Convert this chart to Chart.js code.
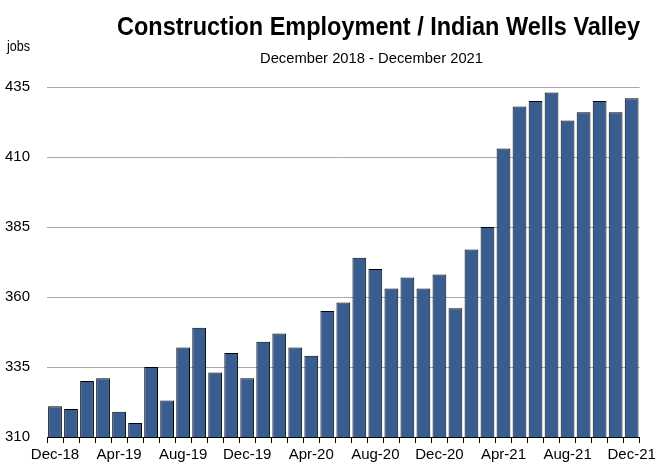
<!DOCTYPE html>
<html>
<head>
<meta charset="utf-8">
<script src="https://cdn.jsdelivr.net/npm/chart.js@4.4.0/dist/chart.umd.min.js"></script>
<style>
  html, body { margin: 0; padding: 0; background: #fff; }
  #wrap { width: 659px; height: 471px; position: relative; }
</style>
</head>
<body>
<div id="wrap"><canvas id="jobsChart"></canvas></div>
<script>
const months = [
  'Dec-18', 'Jan-19', 'Feb-19', 'Mar-19', 'Apr-19', 'May-19', 'Jun-19', 'Jul-19', 'Aug-19',
  'Sep-19', 'Oct-19', 'Nov-19', 'Dec-19', 'Jan-20', 'Feb-20', 'Mar-20', 'Apr-20', 'May-20',
  'Jun-20', 'Jul-20', 'Aug-20', 'Sep-20', 'Oct-20', 'Nov-20', 'Dec-20', 'Jan-21', 'Feb-21',
  'Mar-21', 'Apr-21', 'May-21', 'Jun-21', 'Jul-21', 'Aug-21', 'Sep-21', 'Oct-21', 'Nov-21', 'Dec-21'
];
const jobs = [
  321, 320, 330, 331, 319, 315, 335, 323, 342, 349, 333, 340, 331,
  344, 347, 342, 339, 355, 358, 374, 370, 363, 367, 363, 368, 356,
  377, 385, 413, 428, 430, 433, 423, 426, 430, 426, 431
];
const yTicks = [310, 335, 360, 385, 410, 435];

const font = '"Liberation Sans", Arial, sans-serif';

// draw text squeezed to a given width (the original uses a narrow face)
function squeezed(ctx, text, cx, y, width) {
  const w = ctx.measureText(text).width;
  const k = Math.min(1, width / w);
  ctx.save();
  ctx.translate(cx, y);
  ctx.scale(k, 1);
  ctx.fillText(text, 0, 0);
  ctx.restore();
}

const headerText = {
  id: 'headerText',
  afterDraw(chart) {
    const ctx = chart.ctx;
    ctx.save();
    ctx.fillStyle = '#000';
    ctx.textBaseline = 'alphabetic';
    ctx.textAlign = 'center';
    ctx.font = 'bold 25px ' + font;
    squeezed(ctx, 'Construction Employment / Indian Wells Valley', 378.5, 35, 523);
    ctx.font = '15px ' + font;
    squeezed(ctx, 'December 2018 - December 2021', 371.5, 63, 223);
    ctx.textAlign = 'left';
    ctx.font = '15px ' + font;
    squeezed(ctx, 'jobs', 7, 51, 23);
    ctx.restore();
  }
};

new Chart(document.getElementById('jobsChart'), {
  type: 'bar',
  data: {
    labels: months,
    datasets: [{
      data: jobs,
      backgroundColor: '#375d91',
      borderColor: '#000',
      borderWidth: 1,
      barPercentage: 0.86,
      categoryPercentage: 1
    }]
  },
  options: {
    responsive: true,
    maintainAspectRatio: false,
    animation: false,
    layout: { padding: { top: 87, right: 14, bottom: 0, left: 0 } },
    plugins: {
      legend: { display: false },
      tooltip: { enabled: false }
    },
    scales: {
      x: {
        offset: true,
        afterFit(scale) { scale.height = 34; },
        border: { display: true, color: '#000', width: 1 },
        grid: {
          offset: true,
          drawOnChartArea: false,
          drawTicks: true,
          tickLength: 6,
          color: '#000'
        },
        ticks: {
          autoSkip: false,
          maxRotation: 0,
          padding: 3,
          color: '#000',
          font: { family: font, size: 15 },
          callback(value, index) {
            return index % 4 === 0 ? months[index] : '';
          }
        }
      },
      y: {
        min: 310,
        max: 435,
        afterFit(scale) { scale.width = 47; },
        afterBuildTicks(scale) {
          scale.ticks = yTicks.map(v => ({ value: v }));
        },
        border: { display: false },
        grid: {
          color: '#a9a9a9',
          lineWidth: 1,
          drawTicks: false
        },
        ticks: {
          padding: 17,
          color: '#000',
          font: { family: font, size: 15 }
        }
      }
    }
  },
  plugins: [headerText]
});
</script>
</body>
</html>
